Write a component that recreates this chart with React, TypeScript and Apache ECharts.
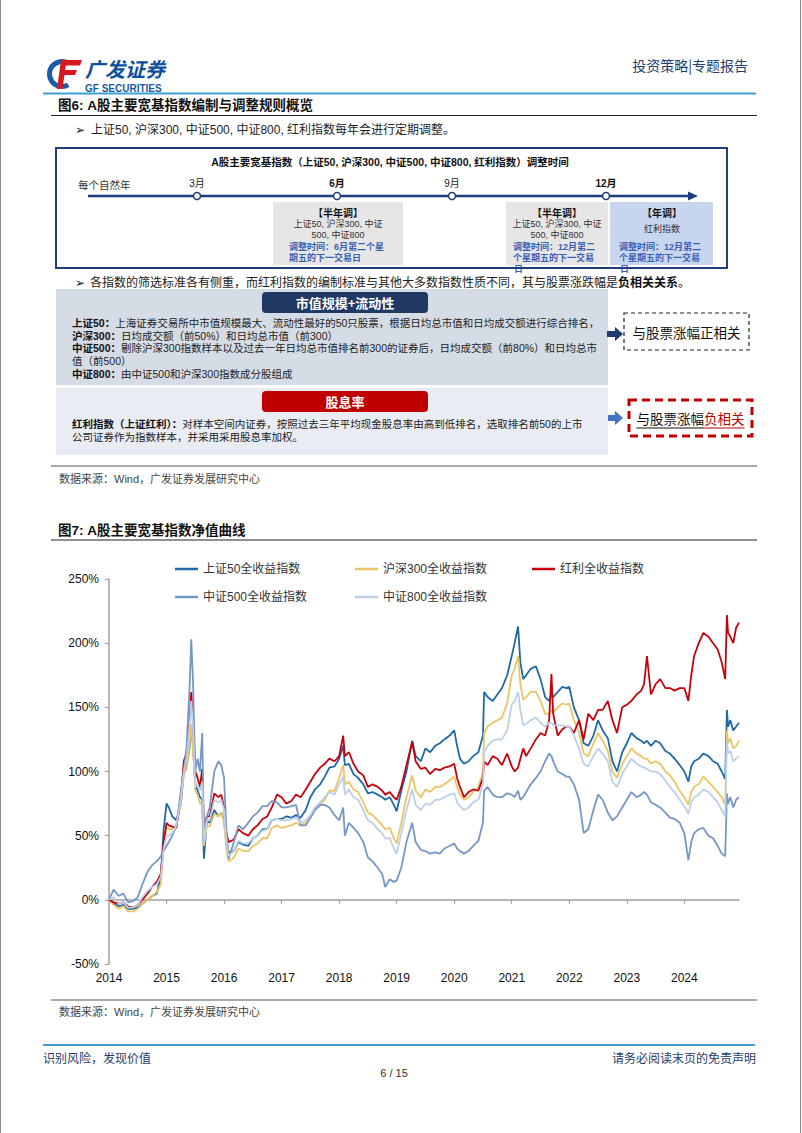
import React, { useEffect, useRef } from 'react';
import * as echarts from 'echarts';

// ---------- data ----------
const dates = [
  2014.00, 2014.08, 2014.17, 2014.25, 2014.33, 2014.42, 2014.50, 2014.58, 2014.67, 2014.75, 2014.83, 2014.90, 2014.95,
  2015.00, 2015.04, 2015.10, 2015.17, 2015.25, 2015.30, 2015.35, 2015.40, 2015.43, 2015.46, 2015.50, 2015.54, 2015.58, 2015.62, 2015.65, 2015.70, 2015.75, 2015.83, 2015.90, 2015.95,
  2016.00, 2016.04, 2016.08, 2016.17, 2016.25, 2016.33, 2016.42, 2016.50, 2016.58, 2016.67, 2016.75, 2016.83, 2016.92,
  2017.00, 2017.08, 2017.17, 2017.25, 2017.33, 2017.42, 2017.50, 2017.58, 2017.67, 2017.75, 2017.83, 2017.92,
  2018.00, 2018.07, 2018.10, 2018.17, 2018.25, 2018.33, 2018.42, 2018.50, 2018.58, 2018.67, 2018.75, 2018.80, 2018.88, 2018.95,
  2019.00, 2019.08, 2019.17, 2019.27, 2019.33, 2019.42, 2019.50, 2019.58, 2019.67, 2019.75, 2019.83, 2019.92,
  2020.00, 2020.05, 2020.10, 2020.17, 2020.25, 2020.33, 2020.42, 2020.50, 2020.52, 2020.58, 2020.67, 2020.75, 2020.83, 2020.92,
  2021.00, 2021.05, 2021.11, 2021.15, 2021.20, 2021.25, 2021.33, 2021.42, 2021.50, 2021.58, 2021.65, 2021.69, 2021.72, 2021.80, 2021.88, 2021.95,
  2022.00, 2022.08, 2022.17, 2022.25, 2022.33, 2022.42, 2022.50, 2022.58, 2022.67, 2022.75, 2022.83, 2022.92,
  2023.00, 2023.08, 2023.17, 2023.25, 2023.30, 2023.35, 2023.42, 2023.50, 2023.58, 2023.67, 2023.75, 2023.83, 2023.92,
  2024.00, 2024.07, 2024.12, 2024.17, 2024.25, 2024.33, 2024.42, 2024.50, 2024.58, 2024.65, 2024.71, 2024.74, 2024.76, 2024.80, 2024.85, 2024.90, 2024.95,
];

const sz50 = [
  0, -3, -5, -4, -7, -7, -6, -3, 0, 3, 5, 18, 55,
  75, 72, 65, 62, 75, 100, 105, 118, 135, 120, 90, 85, 80, 78, 32, 62, 60, 70, 65, 68,
  62, 45, 37, 38, 45, 43, 42, 48, 50, 55, 55, 62, 63,
  63, 65, 64, 66, 64, 70, 80, 86, 90, 96, 103, 104,
  110, 120, 105, 106, 98, 95, 90, 83, 84, 82, 80, 78, 80, 74,
  69, 85, 100, 124, 112, 108, 118, 115, 120, 122, 125, 128,
  132, 120, 110, 106, 108, 112, 115, 128, 162, 158, 155, 160, 165, 175,
  190, 200, 213, 185, 172, 175, 180, 182, 172, 158, 155, 160, 158, 162, 166, 165,
  166, 150, 140, 122, 120, 128, 140, 132, 126, 108, 100, 115,
  122, 130, 126, 124, 122, 124, 120, 124, 122, 116, 114, 110, 105,
  100, 92, 104, 108, 110, 114, 112, 108, 106, 100, 94, 148, 135, 140, 132, 135, 138,
];

const hs300 = [
  0, -4, -7, -5, -9, -9, -7, -3, 0, 3, 6, 12, 40,
  57, 55, 55, 57, 75, 98, 102, 120, 137, 118, 85, 82, 75, 75, 42, 58, 57, 67, 65, 68,
  60, 40, 30, 33, 40, 38, 38, 42, 44, 48, 48, 56, 58,
  56, 57, 58, 60, 58, 60, 64, 70, 74, 78, 85, 85,
  95, 105, 90, 92, 86, 84, 76, 68, 66, 62, 58, 55, 56, 48,
  44, 60, 80, 97, 85, 80, 86, 84, 88, 88, 90, 93,
  96, 88, 82, 78, 80, 84, 88, 100, 130, 135, 138, 140, 142, 153,
  175, 180, 190, 168, 156, 158, 162, 162, 155, 145, 145, 148, 146, 150, 153, 152,
  153, 140, 130, 114, 112, 122, 130, 124, 116, 100, 95, 106,
  112, 118, 114, 112, 110, 110, 106, 108, 106, 100, 97, 92, 85,
  80, 74, 84, 88, 90, 96, 92, 88, 84, 80, 74, 132, 122, 126, 118, 120, 124,
];

const hongli = [
  0, -2, -3, -2, -5, -6, -4, 0, 5, 10, 14, 20, 45,
  60, 58, 57, 56, 80, 108, 115, 140, 162, 140, 100, 95, 88, 102, 55, 65, 65, 83, 80, 82,
  72, 52, 45, 47, 55, 52, 50, 55, 58, 63, 65, 72, 82,
  80, 75, 77, 82, 80, 86, 92, 98, 103, 106, 110, 108,
  112, 128, 112, 115, 106, 100, 97, 88, 90, 88, 85, 82, 84, 80,
  78, 88, 105, 123, 108, 102, 103, 98, 102, 101, 103, 104,
  106, 95, 88, 80, 84, 86, 85, 95, 108, 105, 112, 110, 105, 114,
  104, 100, 103, 110, 118, 112, 118, 125, 130, 128, 140, 176, 145, 128, 133, 135,
  135, 130, 140, 125, 145, 140, 148, 148, 155, 140, 130, 150,
  152, 155, 160, 163, 168, 190, 160, 168, 172, 165, 165, 163, 165,
  165, 155, 175, 190, 200, 208, 205, 200, 195, 185, 172, 222, 208, 205, 200, 212, 216,
];

const zz500 = [
  0, 8, 3, 5, -2, -1, 2, 12, 22, 27, 30, 34, 38,
  42, 45, 50, 58, 85, 100, 120, 165, 203, 170, 100, 110, 100, 130, 50, 65, 72, 100, 108, 105,
  95, 55, 32, 45, 58, 55, 60, 65, 68, 73, 73, 77, 76,
  72, 72, 73, 74, 58, 58, 64, 70, 74, 74, 72, 66,
  62, 72, 50, 60, 56, 52, 45, 33, 30, 25, 20, 10, 16, 14,
  15, 25, 45, 60, 45, 39, 38, 36, 37, 36, 40, 42,
  44, 40, 38, 36, 38, 42, 46, 60, 85, 88, 82, 80, 80, 83,
  82, 80, 85, 78, 80, 84, 90, 95, 100, 108, 114, 112, 108, 100, 98, 96,
  96, 90, 78, 52, 55, 70, 82, 78, 68, 62, 65, 72,
  78, 84, 80, 82, 84, 82, 76, 74, 72, 68, 64, 63, 60,
  52, 31, 45, 52, 55, 56, 50, 48, 42, 36, 34, 83, 75, 80, 72, 78, 80,
];

const zz800 = [
  0, 2, -3, -2, -6, -6, -4, 2, 7, 10, 12, 18, 40,
  50, 50, 52, 58, 78, 100, 110, 135, 155, 135, 88, 90, 85, 92, 45, 62, 62, 78, 76, 78,
  70, 45, 34, 38, 46, 44, 44, 48, 50, 54, 55, 62, 63,
  62, 62, 63, 64, 60, 62, 66, 72, 76, 80, 84, 82,
  90, 96, 82, 86, 80, 78, 70, 62, 60, 55, 52, 48, 48, 40,
  36, 52, 70, 86, 74, 70, 75, 74, 78, 78, 80, 82,
  83, 76, 73, 70, 72, 76, 78, 90, 115, 120, 124, 125, 125, 132,
  152, 155, 162, 148, 136, 137, 140, 142, 138, 135, 138, 138, 136, 136, 136, 135,
  135, 128, 118, 106, 104, 112, 118, 114, 108, 92, 88, 98,
  104, 110, 106, 104, 103, 102, 100, 100, 98, 93, 88, 84, 78,
  73, 67, 76, 80, 82, 86, 84, 80, 76, 70, 65, 125, 114, 116, 108, 110, 112,
];

const seriesNames = ['上证50全收益指数', '沪深300全收益指数', '红利全收益指数', '中证500全收益指数', '中证800全收益指数'];
const seriesValues = [sz50, hs300, hongli, zz500, zz800];
const seriesColors = ['#1f6aa5', '#ebc564', '#c8000a', '#7597c6', '#bccfe8'];
const yearLabels = [2014, 2015, 2016, 2017, 2018, 2019, 2020, 2021, 2022, 2023, 2024];
const tickYears = [2015, 2016, 2017, 2018, 2019, 2020, 2021, 2022, 2023, 2024];
const yMin = -50;
const yMax = 250;
const yStep = 50;

// ---------- helpers ----------
const CJK = '"Noto Sans CJK SC"';
const MIX = '"Liberation Sans", "Noto Sans CJK SC"';

function txt(x: number, y: number, text: string, font: string, fill = '#222', align = 'left', rich?: any) {
  const style: any = {
    text, font, fill,
    align, verticalAlign: 'middle',
    textAlign: align, textVerticalAlign: 'middle',
  };
  if (rich) style.rich = rich;
  return { type: 'text', x, y, silent: true, style };
}
function hline(x1: number, x2: number, y: number, stroke: string, lineWidth = 1, extra: any = {}) {
  return { type: 'line', silent: true, shape: { x1, y1: y, x2, y2: y }, style: { stroke, lineWidth, ...extra } };
}
function box(x: number, y: number, width: number, height: number, fill: string, r = 0, stroke?: string, lineWidth = 0, lineDash?: number[]) {
  const style: any = { fill };
  if (stroke) { style.stroke = stroke; style.lineWidth = lineWidth; }
  if (lineDash) style.lineDash = lineDash;
  return { type: 'rect', silent: true, shape: { x, y, width, height, r }, style };
}

function buildGraphics() {
  const navy = '#1f3d7a';
  const blueTxt = '#3a5fb5';
  const boxFont = `9px ${MIX}`;
  const boxBold = `bold 9px ${MIX}`;
  const panelFont = `10.5px ${MIX}`;
  const bRich = { b: { font: `bold 10.5px ${MIX}`, fill: '#111' } };
  const els: any[] = [];

  // page frame
  els.push({ type: 'line', silent: true, shape: { x1: 0.5, y1: 0, x2: 0.5, y2: 1133 }, style: { stroke: '#8a8a8a', lineWidth: 1 } });
  els.push({ type: 'line', silent: true, shape: { x1: 800.5, y1: 0, x2: 800.5, y2: 1133 }, style: { stroke: '#8a8a8a', lineWidth: 1 } });

  // logo
  els.push({ type: 'arc', silent: true, shape: { cx: 62, cy: 74, r: 12.5, startAngle: Math.PI / 3, endAngle: (Math.PI * 5) / 3, clockwise: true }, style: { stroke: '#1a5dab', lineWidth: 5, fill: 'none' } });
  els.push({ type: 'polygon', silent: true, shape: { points: [[63, 60], [82, 60], [80, 65.5], [61, 65.5]] }, style: { fill: '#d7181f' } });
  els.push({ type: 'polygon', silent: true, shape: { points: [[63, 70], [77, 70], [75, 75], [61, 75]] }, style: { fill: '#d7181f' } });
  els.push({ type: 'polygon', silent: true, shape: { points: [[61, 60], [66.5, 60], [62.5, 89], [57, 89]] }, style: { fill: '#d7181f' } });
  els.push(txt(85, 68.5, '广发证券', `italic bold 20px ${CJK}`, '#0d4f9f'));
  els.push(txt(85, 88, 'GF SECURITIES', `bold 10px "Liberation Sans"`, '#1c5aa6'));
  els.push(txt(748, 65, '投资策略|专题报告', `14px ${CJK}`, '#1f3c6e', 'right'));
  els.push(hline(43, 756, 93.5, '#3d9fd5', 2));

  // figure 6 title
  els.push(txt(58, 105, '图6: A股主要宽基指数编制与调整规则概览', `bold 13.5px ${MIX}`, '#111'));
  els.push(hline(51, 757, 115.5, '#222', 1.2));
  els.push(txt(75, 130, '➢', `12px "DejaVu Sans"`, '#222'));
  els.push(txt(91, 130, '上证50, 沪深300, 中证500, 中证800, 红利指数每年会进行定期调整。', `12px ${MIX}`, '#222'));

  // timeline boxes
  els.push(box(273, 202, 130, 63, '#e6e6e6'));
  els.push(box(506, 202, 102, 63, '#e6e6e6'));
  els.push(box(610, 202, 103, 63, '#c7d6ee'));

  els.push(txt(390, 162, 'A股主要宽基指数（上证50, 沪深300, 中证500, 中证800, 红利指数）调整时间', `bold 10.5px ${MIX}`, '#111', 'center'));
  els.push(txt(78, 184, '每个自然年', `10.5px ${CJK}`, '#333'));
  els.push(txt(197, 183, '3月', `10px ${MIX}`, '#222', 'center'));
  els.push(txt(337, 183, '6月', `bold 10px ${MIX}`, '#111', 'center'));
  els.push(txt(452, 183, '9月', `10px ${MIX}`, '#222', 'center'));
  els.push(txt(606, 183, '12月', `bold 10px ${MIX}`, '#111', 'center'));
  els.push(hline(88, 690, 196, navy, 2.5));
  els.push({ type: 'polygon', silent: true, shape: { points: [[688, 191.5], [698, 196], [688, 200.5]] }, style: { fill: navy } });
  [197, 337, 452, 606].forEach((cx) => {
    els.push({ type: 'circle', silent: true, shape: { cx, cy: 196, r: 3.5 }, style: { fill: '#fff', stroke: navy, lineWidth: 1.5 } });
  });

  // box 1
  els.push(txt(338, 212, '【半年调】', `bold 10px ${CJK}`, '#111', 'center'));
  els.push(txt(338, 223.5, '上证50, 沪深300, 中证', boxFont, '#333', 'center'));
  els.push(txt(338, 234.5, '500, 中证800', boxFont, '#333', 'center'));
  els.push(txt(289, 247, '调整时间：6月第二个星', boxBold, blueTxt));
  els.push(txt(289, 258, '期五的下一交易日', boxBold, blueTxt));
  // box 2
  els.push(txt(557, 212, '【半年调】', `bold 10px ${CJK}`, '#111', 'center'));
  els.push(txt(557, 223.5, '上证50, 沪深300, 中证', boxFont, '#333', 'center'));
  els.push(txt(557, 234.5, '500, 中证800', boxFont, '#333', 'center'));
  els.push(txt(513, 247, '调整时间：12月第二', boxBold, blueTxt));
  els.push(txt(513, 258, '个星期五的下一交易', boxBold, blueTxt));
  els.push(txt(514, 268.5, '日', boxBold, blueTxt));
  // box 3
  els.push(txt(662, 212, '【年调】', `bold 10px ${CJK}`, '#111', 'center'));
  els.push(txt(662, 229, '红利指数', boxFont, '#333', 'center'));
  els.push(txt(619, 247, '调整时间：12月第二', boxBold, blueTxt));
  els.push(txt(619, 258, '个星期五的下一交易', boxBold, blueTxt));
  els.push(txt(620, 268.5, '日', boxBold, blueTxt));

  els.push(box(56, 148, 671, 120, 'none', 0, navy, 2));

  // bullet 2
  els.push(txt(75, 283, '➢', `12px "DejaVu Sans"`, '#222'));
  els.push(txt(90, 283, '各指数的筛选标准各有侧重，而红利指数的编制标准与其他大多数指数性质不同，其与股票涨跌幅是{b|负相关关系}。', `12px ${MIX}`, '#222', 'left', { b: { font: `bold 12px ${MIX}`, fill: '#111' } }));

  // panel 1
  els.push(box(56, 289, 552, 96, '#d6dce6'));
  els.push(box(262, 292, 166, 21, '#1f3864', 4));
  els.push(txt(345, 302.5, '市值规模+流动性', `bold 13px ${CJK}`, '#fff', 'center'));
  els.push(txt(72, 323, '{b|上证50：}上海证券交易所中市值规模最大、流动性最好的50只股票，根据日均总市值和日均成交额进行综合排名，', panelFont, '#222', 'left', bRich));
  els.push(txt(72, 335.5, '{b|沪深300：}日均成交额（前50%）和日均总市值（前300）', panelFont, '#222', 'left', bRich));
  els.push(txt(72, 348, '{b|中证500：}剔除沪深300指数样本以及过去一年日均总市值排名前300的证券后，日均成交额（前80%）和日均总市', panelFont, '#222', 'left', bRich));
  els.push(txt(72, 360.5, '值（前500）', panelFont, '#222'));
  els.push(txt(72, 373.5, '{b|中证800：}由中证500和沪深300指数成分股组成', panelFont, '#222', 'left', bRich));

  // panel 2
  els.push(box(56, 388, 552, 67, '#e9ecf2'));
  els.push(box(262, 391, 166, 21, '#c00000', 4));
  els.push(txt(345, 401.5, '股息率', `bold 13px ${CJK}`, '#fff', 'center'));
  els.push(txt(72, 423.5, '{b|红利指数（上证红利）：}对样本空间内证券，按照过去三年平均现金股息率由高到低排名，选取排名前50的上市', panelFont, '#222', 'left', bRich));
  els.push(txt(72, 436.5, '公司证券作为指数样本，并采用采用股息率加权。', panelFont, '#222'));

  // arrows
  els.push({ type: 'polygon', silent: true, shape: { points: [[607, 331], [615, 331], [615, 327], [623, 334], [615, 341], [615, 337], [607, 337]] }, style: { fill: '#1f3c74' } });
  els.push({ type: 'polygon', silent: true, shape: { points: [[608, 415], [615, 415], [615, 411], [623, 418], [615, 425], [615, 421], [608, 421]] }, style: { fill: '#4472c4' } });

  // dashed boxes
  els.push(box(624, 313, 125, 37, 'none', 0, '#222', 1.2, [4, 3]));
  els.push(txt(686.5, 332, '与股票涨幅正相关', `13.5px ${CJK}`, '#111', 'center'));
  els.push(box(629, 400, 123, 36, 'none', 0, '#c00000', 3, [8, 5]));
  els.push(txt(690.5, 418, '与股票涨幅{r|负相关}', `13.5px ${CJK}`, '#111', 'center', { r: { font: `13.5px ${CJK}`, fill: '#c00000' } }));
  els.push(hline(636.5, 704, 428, '#111', 1));
  els.push(hline(704, 744.5, 428, '#c00000', 1));

  // separators & sources
  els.push(hline(51, 757, 466, '#8c8c8c', 1.5));
  els.push(txt(59, 479, '数据来源：Wind，广发证券发展研究中心', `11px ${MIX}`, '#444'));
  els.push(txt(58, 530, '图7: A股主要宽基指数净值曲线', `bold 13.5px ${MIX}`, '#111'));
  els.push(hline(51, 757, 540, '#222', 1.2));
  els.push(hline(51, 757, 1000, '#8c8c8c', 1.5));
  els.push(txt(59, 1012, '数据来源：Wind，广发证券发展研究中心', `11px ${MIX}`, '#444'));

  // footer
  els.push(hline(43, 755, 1045, '#3d9fd5', 2));
  els.push(txt(43, 1057, '识别风险，发现价值', `12px ${CJK}`, '#1f3c6e'));
  els.push(txt(756, 1057, '请务必阅读末页的免责声明', `12px ${CJK}`, '#1f3c6e', 'right'));
  els.push(txt(394, 1073, '6 / 15', `11px "Liberation Sans"`, '#333', 'center'));
  return els;
}

export default function App() {
  const ref = useRef<HTMLDivElement>(null);
  useEffect(() => {
    if (!ref.current) return;
    const chart = echarts.init(ref.current, undefined, { renderer: 'svg' });
    const legendPos = [[175, 563], [355, 563], [532, 563], [175, 591], [355, 591]];
    const axisGray = '#a0a0a0';
    const option: any = {
      animation: false,
      backgroundColor: '#fff',
      graphic: { elements: buildGraphics() },
      legend: seriesNames.map((n, i) => ({
        data: [n],
        left: legendPos[i][0],
        top: legendPos[i][1],
        padding: 0,
        itemWidth: 23,
        itemHeight: 2.5,
        icon: 'rect',
        selectedMode: false,
        textStyle: { fontSize: 12, color: '#333', fontFamily: MIX },
      })),
      grid: { left: 109, top: 579, width: 630, height: 385, containLabel: false },
      xAxis: [
        {
          type: 'value', min: 2014, max: 2024.95, position: 'top',
          axisLine: { show: true, onZero: true, lineStyle: { color: axisGray, width: 1.5 } },
          axisTick: { show: true, inside: true, length: 4, customValues: tickYears, lineStyle: { color: axisGray, width: 1.2 } },
          axisLabel: { show: false },
          splitLine: { show: false },
        },
        {
          type: 'value', min: 2014, max: 2024.95, position: 'bottom',
          axisLine: { show: false, onZero: false },
          axisTick: { show: false },
          axisLabel: {
            show: true, customValues: yearLabels, formatter: (v: number) => String(Math.round(v)),
            fontSize: 12, color: '#111', fontFamily: '"Liberation Sans"', margin: 8,
          },
          splitLine: { show: false },
        },
      ],
      yAxis: {
        type: 'value', min: yMin, max: yMax, interval: yStep,
        axisLine: { show: true, onZero: false, lineStyle: { color: axisGray, width: 1.5 } },
        axisTick: { show: true, length: 4, lineStyle: { color: axisGray, width: 1.2 } },
        axisLabel: { formatter: '{value}%', fontSize: 12, color: '#111', fontFamily: '"Liberation Sans"', margin: 10 },
        splitLine: { show: false },
      },
      series: seriesNames.map((n, i) => ({
        name: n,
        type: 'line',
        xAxisIndex: 0,
        yAxisIndex: 0,
        data: dates.map((d, k) => [d, seriesValues[i][k]]),
        showSymbol: false,
        symbol: 'none',
        lineStyle: { width: 1.8, color: seriesColors[i] },
        itemStyle: { color: seriesColors[i] },
      })),
    };
    chart.setOption(option);
    return () => chart.dispose();
  }, []);
  return (
    <div
      ref={ref}
      style={{ position: 'absolute', left: 0, top: 0, width: 802, height: 1133, background: '#fff' }}
    />
  );
}
